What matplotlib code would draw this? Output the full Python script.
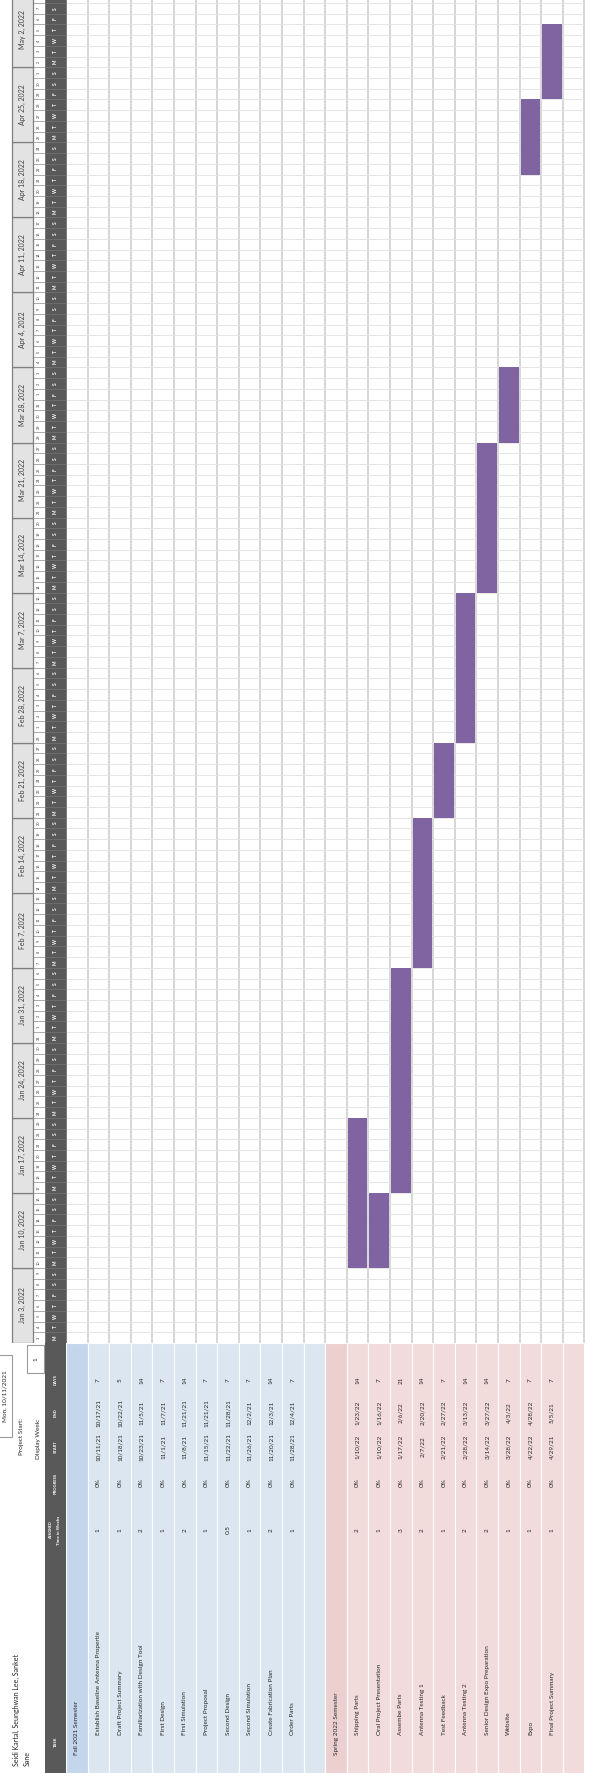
import datetime as dt

import numpy as np
import matplotlib
matplotlib.use("Agg")
import matplotlib.pyplot as plt
import matplotlib.dates as mdates
from matplotlib.patches import Rectangle

plt.rcParams['font.family'] = ['Lato', 'DejaVu Sans']

# schedule, fall semester
fall_tasks = ["Establish Baseline Antenna Propertie", "Draft Project Summary",
              "Familiarization with Design Tool", "First Design", "First Simulation",
              "Project Proposal", "Second Design", "Second Simulation",
              "Create Fabrication Plan", "Order Parts"]
fall_weeks = ["1", "1", "2", "1", "2", "1", "0.5", "1", "2", "1"]
fall_start = ["10/11/21", "10/18/21", "10/23/21", "11/1/21", "11/8/21",
              "11/15/21", "11/22/21", "11/26/21", "11/20/21", "11/28/21"]
fall_end = ["10/17/21", "10/22/21", "11/5/21", "11/7/21", "11/21/21",
            "11/21/21", "11/28/21", "12/2/21", "12/3/21", "12/4/21"]
fall_days = [7, 5, 14, 7, 14, 7, 7, 7, 14, 7]

# schedule, spring semester
spring_tasks = ["Shipping Parts", "Oral Project Presentation", "Assembe Parts",
                "Antenna Testing 1", "Test Feedback", "Antenna Testing 2",
                "Senior Design Expo Preparation", "Website", "Expo",
                "Final Project Summary"]
spring_weeks = ["2", "1", "3", "2", "1", "2", "2", "1", "1", "1"]
spring_start = ["1/10/22", "1/10/22", "1/17/22", "2/7/22", "2/21/22",
                "2/28/22", "3/14/22", "3/28/22", "4/22/22", "4/29/21"]
spring_end = ["1/23/22", "1/16/22", "2/6/22", "2/20/22", "2/27/22",
              "3/13/22", "3/27/22", "4/3/22", "4/28/22", "5/5/21"]
spring_days = [14, 7, 21, 14, 7, 14, 14, 7, 7, 7]
progress = "0%"

team = ["Seidi Kartal, Seunghwan Lee, Sanket", "Sane"]
project_start = "Mon, 10/11/2021"
display_week = "1"

view_start = dt.date(2022, 1, 3)
view_days = 125          # Jan 3 .. May 7

rows = [dict(kind="head", sec="fall", name="Fall 2021 Semester")]
for i in range(len(fall_tasks)):
    rows.append(dict(kind="task", sec="fall", name=fall_tasks[i], weeks=fall_weeks[i],
                     start=fall_start[i], end=fall_end[i], days=fall_days[i]))
rows.append(dict(kind="blank", sec="fall"))
rows.append(dict(kind="head", sec="spring", name="Spring 2022 Semester"))
for i in range(len(spring_tasks)):
    rows.append(dict(kind="task", sec="spring", name=spring_tasks[i], weeks=spring_weeks[i],
                     start=spring_start[i], end=spring_end[i], days=spring_days[i]))
rows.append(dict(kind="blank", sec="spring"))
n_rows = len(rows)

# layout in pixels (sheet is turned on its side: tasks run left->right, time runs up)
W, H = 597, 1773
ROW_W = 21.6
ROW0 = 66
DAY_H = 10.72
SPLIT = 1343


def rx(px):
    return (px - ROW0) / ROW_W


fig = plt.figure(figsize=(W / 100, H / 100), dpi=100)
xlim = (rx(0), rx(W))

# ---- timeline ----
gx = fig.add_axes([0, (H - SPLIT) / H, 1, SPLIT / H])
d0 = mdates.date2num(view_start)
gx.set_xlim(*xlim)
gx.set_ylim(d0, d0 + SPLIT / DAY_H)
gx.axis('off')

gx.vlines(np.arange(n_rows + 1), d0, d0 + view_days + 1, colors='#d6d6d6', lw=1.4, zorder=1)
gx.hlines(d0 + np.arange(view_days + 1), 0, n_rows, colors='#e2e2e2', lw=0.6, zorder=1)

for r, row in enumerate(rows):
    if row["kind"] != "task":
        continue
    s = dt.datetime.strptime(row["start"], "%m/%d/%y").date()
    e = dt.datetime.strptime(row["end"], "%m/%d/%y").date()
    if row["sec"] == "spring" and s.year == 2021:
        # last spring entry was typed with a 21 year, it belongs to 2022
        s, e = s.replace(year=2022), e.replace(year=2022)
    gx.bar(r + 0.5, (e - s).days + 1, bottom=mdates.date2num(s), width=0.9,
           color='#8064a2', lw=0, zorder=3)

xw0, xw1 = rx(12), rx(33)
xn0, xn1 = rx(33), rx(45)
xl0, xl1 = rx(45), rx(66)
letters = "MTWTFSS"
for k in range(view_days + 1):
    day = view_start + dt.timedelta(days=k)
    y = d0 + k
    gx.add_patch(Rectangle((xn0, y), xn1 - xn0, 1, fc='white', ec='#9a9a9a', lw=0.5))
    gx.add_patch(Rectangle((xl0, y), xl1 - xl0, 1, fc='#595959', ec='#6a6a6a', lw=0.4))
    if k == view_days:
        continue  # only a sliver of this day shows at the top edge
    gx.text((xn0 + xn1) / 2, y + 0.5, str(day.day), rotation=90, ha='center', va='center',
            fontsize=2.8, color='#404040')
    gx.text((xl0 + xl1) / 2, y + 0.5, letters[day.weekday()], rotation=90, ha='center',
            va='center', fontsize=3.4, fontweight='bold', color='white')

for k in range(0, view_days + 1, 7):
    wk = view_start + dt.timedelta(days=k)
    gx.add_patch(Rectangle((xw0, d0 + k), xw1 - xw0, 7, fc='#e3e3e3', ec='#7f7f7f', lw=0.9))
    gx.text((xw0 + xw1) / 2, d0 + k + 3.5, f"{wk:%b} {wk.day}, {wk.year}", rotation=90,
            ha='center', va='center', fontsize=5, color='#404040')

# ---- task table ----
tx = fig.add_axes([0, 0, 1, (H - SPLIT) / H])
tx.set_xlim(*xlim)
tx.set_ylim(H - SPLIT, 0)
tx.axis('off')


def ty(px):
    return px - SPLIT


fills = {("fall", "head"): '#c3d6ec', ("fall", "task"): '#dce6f1', ("fall", "blank"): '#dce6f1',
         ("spring", "head"): '#ecd0cf', ("spring", "task"): '#f2dcdb', ("spring", "blank"): '#f2dcdb'}
for r, row in enumerate(rows):
    tx.add_patch(Rectangle((r, 0), 1, H - SPLIT, fc=fills[(row["sec"], row["kind"])],
                           ec='white', lw=0.8))

tx.add_patch(Rectangle((xl0, 0), xl1 - xl0, H - SPLIT, fc='#595959', ec='none'))
xc = (xl0 + xl1) / 2
hdr = dict(rotation=90, ha='center', va='center', color='white', fontweight='bold')
col_y = {"DAYS": 1380, "END": 1413, "START": 1447, "PROGRESS": 1483}
for name, py in col_y.items():
    tx.text(xc, ty(py), name, fontsize=3.0, **hdr)
tx.text(rx(51.5), ty(1530), "ASSIGNED", fontsize=2.6, **hdr)
tx.text(rx(59), ty(1530), "Time in Weeks", fontsize=3.2, **hdr)
tx.text(xc, ty(1742), "TASK", fontsize=3.0, **hdr)

body = dict(rotation=90, rotation_mode='anchor', va='center', color='#262626', fontsize=4.6)
for r, row in enumerate(rows):
    xr = r + 0.5
    if row["kind"] == "head":
        tx.text(xr, ty(1755), row["name"], ha='left', **body)
    elif row["kind"] == "task":
        tx.text(xr, ty(1735), row["name"], ha='left', **body)
        tx.text(xr, ty(1530), row["weeks"], ha='center', **body)
        tx.text(xr, ty(1483), progress, ha='center', **body)
        tx.text(xr, ty(1447), row["start"], ha='center', **body)
        tx.text(xr, ty(1413), row["end"], ha='center', **body)
        tx.text(xr, ty(1380), str(row["days"]), ha='center', **body)

# project info block
tx.add_patch(Rectangle((rx(-3), ty(1355)), rx(12) - rx(-3), 82, fc='white', ec='#9a9a9a', lw=0.8))
tx.text(rx(5), ty(1396), project_start, ha='center', **body)
tx.text(rx(22), ty(1418), "Project Start:", ha='right', **body)
tx.add_patch(Rectangle((rx(27), ty(1345)), rx(44) - rx(27), 28, fc='white', ec='#9a9a9a', lw=0.8))
tx.text(rx(36), ty(1359), display_week, ha='center', **body)
tx.text(rx(39), ty(1418), "Display Week:", ha='right', **body)

for i, line in enumerate(team):
    tx.text(rx(16 + 11 * i), ty(1766), line, ha='left', **dict(body, fontsize=5))

fig.savefig("out.png", dpi=100)
